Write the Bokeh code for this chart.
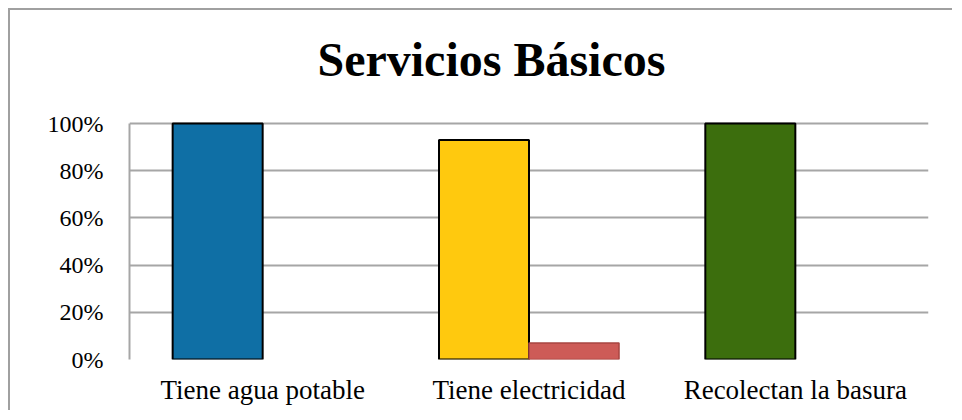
from bokeh.plotting import figure
from bokeh.models import (ColumnDataSource, FactorRange, Range1d, Label,
                          PrintfTickFormatter, FixedTicker, CDSView, BooleanFilter)
from bokeh.transform import dodge
from bokeh.embed import file_html
from bokeh.resources import INLINE

# ---- data ----
title_text = "Servicios Básicos"
categories = ["Tiene agua potable", "Tiene electricidad", "Recolectan la basura"]
si_values = [100, 93, 100]
no_values = [0, 7, 0]
si_colors = ["#0F6FA5", "#FFC90E", "#3C6E0D"]
no_color = "#CD5B57"
y_ticks = [0, 20, 40, 60, 80, 100]

SERIF = "Liberation Serif"

# layout (pixels): frame spans canvas top..349; value 100 sits at canvas y=113
FRAME_H = 349
TOP_100 = 113
TITLE_Y = 49
y_end = 100 * FRAME_H / (FRAME_H - TOP_100)

src_si = ColumnDataSource(dict(cat=categories, val=si_values, color=si_colors))
src_no = ColumnDataSource(dict(cat=categories, val=no_values))

p = figure(width=944, height=402, output_backend="svg", toolbar_location=None,
           x_range=FactorRange(factors=categories, range_padding=0),
           y_range=Range1d(0, y_end),
           min_border_left=119, min_border_right=26,
           min_border_top=0, min_border_bottom=402 - FRAME_H)
p.styles = {"border-top": "2px solid #a0a0a0", "border-left": "2px solid #a0a0a0",
            "margin-top": "8px", "margin-left": "8px"}
p.outline_line_color = None
p.background_fill_color = "white"
p.border_fill_color = "white"

# title, placed in the empty top part of the frame
p.add_layout(Label(x=1.359, y=y_end * (FRAME_H - TITLE_Y) / FRAME_H, text=title_text,
                   text_font=SERIF, text_font_style="bold",
                   text_font_size="48px", text_color="black",
                   text_align="center", text_baseline="alphabetic"))

p.vbar(x=dodge("cat", -0.169, range=p.x_range), top="val", width=0.338,
       source=src_si, fill_color="color", line_color="black", line_width=2)
view = CDSView(filter=BooleanFilter([v > 0 for v in no_values]))
p.vbar(x=dodge("cat", 0.169, range=p.x_range), top="val", width=0.338,
       source=src_no, view=view, fill_color=no_color, line_color="#A84541",
       line_width=1.5)

# grid
p.xgrid.grid_line_color = None
p.ygrid.ticker = FixedTicker(ticks=y_ticks)
p.ygrid.grid_line_color = "#a6a6a6"
p.ygrid.grid_line_width = 2
p.ygrid.level = "underlay"

# y axis
p.yaxis.ticker = FixedTicker(ticks=y_ticks)
p.yaxis.bounds = (0, 100)
p.yaxis.formatter = PrintfTickFormatter(format="%d%%")
p.yaxis.major_label_text_font = SERIF
p.yaxis.major_label_text_font_size = "24px"
p.yaxis.major_label_text_color = "black"
p.yaxis.major_label_standoff = 26
p.yaxis.axis_line_color = "#a6a6a6"
p.yaxis.axis_line_width = 2
p.yaxis.major_tick_out = 0
p.yaxis.major_tick_in = 0
p.yaxis.minor_tick_line_color = None

# x axis
p.xaxis.major_label_text_font = SERIF
p.xaxis.major_label_text_font_size = "27px"
p.xaxis.major_label_text_color = "black"
p.xaxis.major_label_standoff = 15
p.xaxis.axis_line_color = None
p.xaxis.major_tick_line_color = None
p.xaxis.major_tick_out = 0
p.xaxis.minor_tick_line_color = None

open("out.html", "w").write(file_html(p, INLINE))
